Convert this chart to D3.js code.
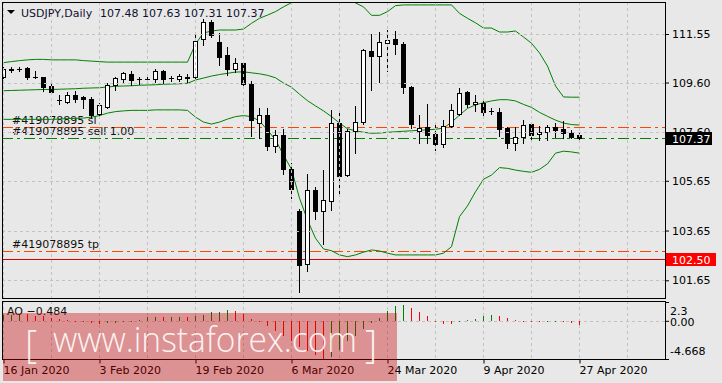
<!DOCTYPE html>
<html>
<head>
<meta charset="utf-8">
<script src="https://cdn.jsdelivr.net/npm/d3@7"></script>
<style>
    body { margin: 0; background: #e8e8e8; }
    svg { display: block; font-family: "DejaVu Sans", sans-serif; font-size: 11px; }
</style>
</head>
<body>
<div class="canvas"></div>
<script>
const symbolTitle = "USDJPY,Daily";

const dates = [
    "2020-01-16", "2020-01-17", "2020-01-20", "2020-01-21", "2020-01-22", "2020-01-23", "2020-01-24", "2020-01-27",
    "2020-01-28", "2020-01-29", "2020-01-30", "2020-01-31", "2020-02-03", "2020-02-04", "2020-02-05", "2020-02-06",
    "2020-02-07", "2020-02-10", "2020-02-11", "2020-02-12", "2020-02-13", "2020-02-14", "2020-02-17", "2020-02-18",
    "2020-02-19", "2020-02-20", "2020-02-21", "2020-02-24", "2020-02-25", "2020-02-26", "2020-02-27", "2020-02-28",
    "2020-03-02", "2020-03-03", "2020-03-04", "2020-03-05", "2020-03-06", "2020-03-09", "2020-03-10", "2020-03-11",
    "2020-03-12", "2020-03-13", "2020-03-16", "2020-03-17", "2020-03-18", "2020-03-19", "2020-03-20", "2020-03-23",
    "2020-03-24", "2020-03-25", "2020-03-26", "2020-03-27", "2020-03-30", "2020-03-31", "2020-04-01", "2020-04-02",
    "2020-04-03", "2020-04-06", "2020-04-07", "2020-04-08", "2020-04-09", "2020-04-10", "2020-04-13", "2020-04-14",
    "2020-04-15", "2020-04-16", "2020-04-17", "2020-04-20", "2020-04-21", "2020-04-22", "2020-04-23", "2020-04-24",
    "2020-04-27"
];

const openPrices = [
    109.83, 110.12, 110.15, 110.17, 109.84, 109.81, 109.46, 108.91, 108.83, 109.10,
    109.01, 108.94, 108.32, 108.63, 109.50, 109.74, 109.94, 109.74, 109.75, 109.73,
    110.06, 109.77, 109.75, 109.80, 109.81, 111.34, 112.04, 111.24, 110.71, 110.13,
    110.40, 109.54, 107.96, 108.29, 107.06, 107.49, 106.12, 104.45, 102.29, 105.28,
    104.45, 104.85, 107.96, 105.88, 107.65, 108.00, 110.88, 110.68, 111.20, 111.35,
    111.15, 109.43, 107.66, 107.80, 107.52, 107.13, 107.85, 108.32, 109.23, 108.72,
    108.76, 108.46, 108.40, 107.76, 107.16, 107.40, 107.92, 107.52, 107.60, 107.81,
    107.74, 107.58, 107.48
];
const highPrices = [
    110.22, 110.24, 110.22, 110.24, 110.07, 109.83, 109.66, 109.10, 109.23, 109.27,
    109.06, 109.01, 108.76, 109.57, 109.83, 110.03, 110.06, 109.83, 109.90, 110.14,
    110.10, 109.86, 109.94, 109.94, 111.60, 112.14, 112.11, 111.58, 111.02, 110.57,
    110.44, 109.66, 108.56, 108.56, 107.69, 107.73, 106.38, 104.50, 105.92, 105.41,
    106.08, 108.50, 108.36, 107.73, 108.66, 110.95, 111.54, 111.62, 111.71, 111.67,
    111.24, 109.47, 108.29, 108.74, 107.93, 108.09, 108.74, 109.37, 109.27, 109.10,
    108.97, 108.56, 108.56, 107.82, 107.80, 108.09, 108.02, 107.85, 107.89, 107.96,
    108.05, 107.69, 107.63
];
const lowPrices = [
    109.78, 110.03, 110.06, 109.73, 109.80, 109.27, 109.14, 108.74, 108.79, 108.83,
    108.56, 108.23, 108.25, 108.58, 109.30, 109.63, 109.50, 109.54, 109.57, 109.63,
    109.59, 109.67, 109.67, 109.62, 109.79, 111.11, 111.44, 110.30, 109.90, 110.03,
    109.50, 107.46, 107.36, 106.89, 106.82, 105.92, 104.95, 101.19, 102.04, 104.10,
    103.10, 104.48, 105.12, 105.84, 106.75, 107.95, 109.30, 109.63, 110.07, 110.73,
    109.19, 107.76, 107.16, 107.16, 106.89, 106.99, 107.81, 108.29, 108.63, 108.47,
    108.19, 108.32, 107.45, 106.96, 106.89, 107.16, 107.26, 107.29, 107.29, 107.42,
    107.36, 107.36, 107.31
];
const closePrices = [
    110.13, 110.14, 110.16, 109.81, 109.83, 109.43, 109.23, 108.90, 109.09, 108.95,
    108.95, 108.29, 108.70, 109.49, 109.77, 109.97, 109.70, 109.73, 109.76, 110.08,
    109.74, 109.77, 109.86, 109.81, 111.28, 112.03, 111.51, 110.64, 110.13, 110.40,
    109.54, 108.09, 108.29, 107.06, 107.49, 106.12, 105.32, 102.27, 105.28, 104.45,
    104.88, 107.96, 105.85, 107.65, 108.00, 110.91, 110.68, 111.22, 111.31, 111.14,
    109.43, 107.93, 107.78, 107.49, 107.12, 107.85, 108.50, 109.17, 108.72, 108.82,
    108.43, 108.45, 107.72, 107.18, 107.40, 107.88, 107.49, 107.60, 107.80, 107.69,
    107.56, 107.42, 107.37
];

// Bollinger bands
const bandUpper = [
    110.40, 110.44, 110.48, 110.51, 110.53, 110.53, 110.51, 110.51, 110.51, 110.51,
    110.48, 110.46, 110.44, 110.42, 110.42, 110.42, 110.42, 110.42, 110.42, 110.42,
    110.42, 110.42, 110.42, 110.42, 111.15, 111.59, 111.67, 111.71, 111.71, 111.71,
    111.75, 111.98, 112.18, 112.31, 112.45, 112.64, 112.81, 113.12, 113.32, 113.40,
    113.40, 113.32, 113.16, 112.96, 112.80, 112.64, 112.30, 112.30, 112.45, 112.69,
    112.72, 112.72, 112.72, 112.72, 112.72, 112.72, 112.72, 112.38, 112.18, 112.00,
    111.79, 111.79, 111.63, 111.63, 111.67, 111.43, 111.18, 110.79, 110.26, 109.46,
    109.02, 109.01, 109.01
];
const bandMiddle = [
    109.27, 109.28, 109.29, 109.30, 109.31, 109.32, 109.32, 109.33, 109.34, 109.35,
    109.37, 109.38, 109.39, 109.42, 109.45, 109.46, 109.47, 109.49, 109.50, 109.51,
    109.53, 109.54, 109.55, 109.57, 109.70, 109.78, 109.86, 109.92, 109.97, 110.02,
    110.03, 109.99, 109.95, 109.89, 109.79, 109.58, 109.41, 109.13, 108.87, 108.66,
    108.46, 108.23, 107.97, 107.74, 107.66, 107.60, 107.56, 107.57, 107.60, 107.62,
    107.64, 107.66, 107.68, 107.70, 107.72, 107.77, 108.00, 108.29, 108.56, 108.70,
    108.79, 108.86, 108.91, 108.91, 108.86, 108.72, 108.60, 108.40, 108.24, 108.09,
    107.97, 107.91, 107.89
];
const bandLower = [
    108.12, 108.12, 108.12, 108.12, 108.12, 108.12, 108.12, 108.13, 108.15, 108.16,
    108.17, 108.21, 108.27, 108.37, 108.43, 108.46, 108.48, 108.48, 108.48, 108.50,
    108.50, 108.50, 108.50, 108.48, 108.21, 108.01, 107.93, 108.01, 108.13, 108.23,
    108.27, 108.23, 108.05, 107.69, 107.29, 106.69, 106.11, 104.95, 104.07, 103.34,
    102.91, 102.84, 102.67, 102.60, 102.67, 102.78, 102.87, 102.83, 102.74, 102.67,
    102.67, 102.67, 102.67, 102.67, 102.67, 102.74, 103.00, 104.21, 104.64, 105.21,
    105.71, 105.88, 106.18, 106.15, 106.08, 106.03, 105.99, 106.11, 106.33, 106.76,
    106.84, 106.81, 106.76
];

const aoValues = [
    0.70, 0.74, 0.80, 0.78, 0.62, 0.53, 0.33, 0.20, 0.08, 0.02,
    -0.16, -0.24, -0.33, -0.28, -0.24, -0.16, -0.08, 0.16, 0.41, 0.49,
    0.41, 0.42, 0.43, 0.41, 0.61, 0.69, 1.02, 1.03, 1.31, 1.14,
    0.82, 0.20, -0.20, -0.61, -1.22, -1.84, -2.50, -3.20, -3.75, -4.20,
    -4.668, -4.45, -3.55, -2.47, -1.85, -1.00, -0.27, 0.29, 1.14, 1.76,
    1.92, 1.51, 1.02, 0.53, 0.02, -0.38, -0.45, -0.16, 0.06, 0.20,
    0.53, 0.69, 0.53, 0.29, 0.08, 0.01, -0.06, -0.16, -0.05, -0.02,
    -0.06, -0.24, -0.484
];

const priceTicks = [111.55, 109.60, 107.60, 105.65, 103.65, 101.65];
const aoTicks = [2.3, 0, -4.668];
const aoTickLabels = ["2.3", "0.00", "-4.668"];

const levelNames = ["#419078895 sl", "#419078895 sell 1.00", "#419078895 tp"];
const levelPrices = [107.80, 107.36, 102.81];
const alertPrice = 102.50;

const watermarkText = "www.instaforex.com";

class TerminalChart {
    constructor(svg) {
        this.svg = svg;
        this.plot = {left: 2, right: 665, top: 2, bottom: 298};
        this.sub = {top: 301, bottom: 359};
        this.parseDate = d3.timeParse("%Y-%m-%d");
        this.bars = dates.map((d, i) => ({
            i: i, date: this.parseDate(d),
            o: openPrices[i], h: highPrices[i], l: lowPrices[i], c: closePrices[i]
        }));
        this.x = d3.scaleLinear().domain([0, dates.length - 1]).range([3, 579]);
        this.y = d3.scaleLinear().domain([101.65, 111.55]).range([280.3, 34]);
        this.aoY = d3.scaleLinear().domain([-4.668, 2.3]).range([359, 302]);

        this.initialize();
    }

    initialize() {
        this.svg.append("clipPath").attr("id", "plotClip")
            .append("rect")
            .attr("x", this.plot.left).attr("y", this.plot.top)
            .attr("width", this.plot.right - this.plot.left)
            .attr("height", this.plot.bottom - this.plot.top);

        this.main = this.svg.append("g").attr("clip-path", "url(#plotClip)");
        this.addGrid();
        this.addLevels();
        this.addBands();
        this.addCandles();
        this.addOscillator();
        this.addFrames();
        this.addPriceAxis();
        this.addTimeAxis();
        this.addHeader();
        this.addWatermark();
    }

    addGrid() {
        const cols = d3.range(0, 79, 6);
        const grid = this.svg.append("g")
            .attr("stroke", "#c2c2c2")
            .attr("stroke-dasharray", "3,3")
            .attr("shape-rendering", "crispEdges");

        grid.selectAll("line.v")
            .data(cols)
            .join("line")
            .attr("x1", d => this.x(d) + 0.5).attr("x2", d => this.x(d) + 0.5)
            .attr("y1", this.plot.top).attr("y2", this.plot.bottom);

        grid.selectAll("line.sv")
            .data(cols)
            .join("line")
            .attr("x1", d => this.x(d) + 0.5).attr("x2", d => this.x(d) + 0.5)
            .attr("y1", this.sub.top).attr("y2", this.sub.bottom);

        grid.selectAll("line.h")
            .data(priceTicks)
            .join("line")
            .attr("x1", this.plot.left).attr("x2", this.plot.right)
            .attr("y1", d => Math.round(this.y(d)) + 0.5)
            .attr("y2", d => Math.round(this.y(d)) + 0.5);

        grid.append("line")
            .attr("x1", this.plot.left).attr("x2", this.plot.right)
            .attr("y1", Math.round(this.aoY(0)) + 0.5)
            .attr("y2", Math.round(this.aoY(0)) + 0.5);
    }

    addLevels() {
        const levels = levelNames.map((n, i) => ({name: n, price: levelPrices[i]}));
        const g = this.main.append("g");

        g.append("line")
            .attr("x1", this.plot.left).attr("x2", this.plot.right)
            .attr("y1", Math.round(this.y(alertPrice)) + 0.5)
            .attr("y2", Math.round(this.y(alertPrice)) + 0.5)
            .attr("stroke", "#dd0000")
            .attr("shape-rendering", "crispEdges");

        g.selectAll("line.level")
            .data(levels)
            .join("line")
            .attr("x1", this.plot.left).attr("x2", this.plot.right)
            .attr("y1", d => Math.round(this.y(d.price)) + 0.5)
            .attr("y2", d => Math.round(this.y(d.price)) + 0.5)
            .attr("stroke", d => d.name.includes("sell") ? "#008000" : "#ff4500")
            .attr("stroke-dasharray", "11,4,3,4")
            .attr("shape-rendering", "crispEdges");

        g.selectAll("text.level")
            .data(levels)
            .join("text")
            .attr("x", 12)
            .attr("y", d => this.y(d.price) - 3)
            .attr("fill", "#111")
            .text(d => d.name);
    }

    addBands() {
        const line = d3.line()
            .x((d, i) => this.x(i) + 0.5)
            .y(d => this.y(d));
        this.main.selectAll("path.band")
            .data([bandUpper, bandMiddle, bandLower])
            .join("path")
            .attr("d", d => line(d))
            .attr("fill", "none")
            .attr("stroke", "#008000")
            .attr("stroke-width", 1);
    }

    addCandles() {
        const g = this.main.append("g").attr("shape-rendering", "crispEdges");
        const py = v => Math.round(this.y(v));

        g.selectAll("rect.wick")
            .data(this.bars)
            .join("rect")
            .attr("x", d => this.x(d.i))
            .attr("width", 1)
            .attr("y", d => py(d.h))
            .attr("height", d => py(d.l) - py(d.h) + 1)
            .attr("fill", "#000");

        g.selectAll("rect.body")
            .data(this.bars)
            .join("rect")
            .attr("x", d => this.x(d.i) - 2)
            .attr("width", 5)
            .attr("y", d => py(Math.max(d.o, d.c)))
            .attr("height", d => Math.max(1, py(Math.min(d.o, d.c)) - py(Math.max(d.o, d.c)) + 1))
            .attr("fill", "#000");

        const bulls = this.bars.filter(d => d.c > d.o &&
            py(d.o) - py(d.c) + 1 > 2);
        g.selectAll("rect.hollow")
            .data(bulls)
            .join("rect")
            .attr("x", d => this.x(d.i) - 1)
            .attr("width", 3)
            .attr("y", d => py(d.c) + 1)
            .attr("height", d => py(d.o) - py(d.c) - 1)
            .attr("fill", "#fff");
    }

    addOscillator() {
        const zero = Math.round(this.aoY(0));
        const g = this.svg.append("g").attr("shape-rendering", "crispEdges");
        g.selectAll("rect.ao")
            .data(aoValues)
            .join("rect")
            .attr("x", (d, i) => this.x(i))
            .attr("width", 1)
            .attr("y", d => d >= 0 ? Math.round(this.aoY(d)) : zero)
            .attr("height", d => Math.max(1, Math.abs(Math.round(this.aoY(d)) - zero)))
            .attr("fill", (d, i) => (i === 0 || d > aoValues[i - 1]) ? "#008000" : "#ff0000");

        this.svg.append("text")
            .attr("x", 7).attr("y", 315)
            .attr("fill", "#111")
            .text(`AO ${d3.format(".3f")(aoValues[aoValues.length - 1])}`);
    }

    addFrames() {
        const g = this.svg.append("g")
            .attr("fill", "none").attr("stroke", "#000")
            .attr("shape-rendering", "crispEdges");
        g.append("rect")
            .attr("x", this.plot.left + 0.5).attr("y", this.plot.top + 0.5)
            .attr("width", this.plot.right - this.plot.left)
            .attr("height", this.plot.bottom - this.plot.top);
        g.append("rect")
            .attr("x", this.plot.left + 0.5).attr("y", this.sub.top + 0.5)
            .attr("width", this.plot.right - this.plot.left)
            .attr("height", this.sub.bottom - this.sub.top);
    }

    addPriceAxis() {
        const axisGroup = this.svg.append("g")
            .attr("transform", `translate(${this.plot.right}, 0)`)
            .call(d3.axisRight(this.y).tickValues(priceTicks).tickSize(4).tickFormat(d3.format(".2f")));
        axisGroup.select(".domain").remove();
        axisGroup.selectAll("text")
            .attr("x", 7)
            .style("font-family", "DejaVu Sans")
            .style("font-size", "11px")
            .attr("fill", "#000");

        // current bid and alert price boxes
        const last = this.bars[this.bars.length - 1];
        const tags = [
            {price: last.c, bg: "#000", width: 46},
            {price: alertPrice, bg: "#ff0000", width: 50}
        ];
        const tagGroup = this.svg.append("g");
        tagGroup.selectAll("rect")
            .data(tags)
            .join("rect")
            .attr("x", this.plot.right + 1)
            .attr("y", d => Math.round(this.y(d.price)) - 6)
            .attr("width", d => d.width)
            .attr("height", 13)
            .attr("fill", d => d.bg);
        tagGroup.selectAll("text")
            .data(tags)
            .join("text")
            .attr("x", this.plot.right + 7)
            .attr("y", d => Math.round(this.y(d.price)) + 4.5)
            .attr("fill", "#fff")
            .text(d => d3.format(".2f")(d.price));

        const aoAxis = this.svg.append("g")
            .attr("transform", `translate(${this.plot.right}, 0)`)
            .call(d3.axisRight(this.aoY).tickValues(aoTicks).tickSize(4)
                .tickFormat((d, i) => aoTickLabels[i]));
        aoAxis.select(".domain").remove();
        aoAxis.selectAll("text")
            .attr("x", 5)
            .attr("dy", (d, i) => ["1.1em", "0.38em", "-0.45em"][i])
            .style("font-family", "DejaVu Sans")
            .style("font-size", "11px")
            .attr("fill", "#000");
    }

    addTimeAxis() {
        const fmt = d3.timeFormat("%-d %b %Y");
        const axisGroup = this.svg.append("g")
            .attr("transform", `translate(0.5, ${this.sub.bottom + 0.5})`)
            .call(d3.axisBottom(this.x).tickValues(d3.range(0, dates.length, 12)).tickSize(4)
                .tickFormat(i => fmt(this.bars[i].date)));
        axisGroup.select(".domain").remove();
        axisGroup.selectAll("text")
            .attr("text-anchor", "start")
            .attr("x", -0.5)
            .style("font-family", "DejaVu Sans")
            .style("font-size", "11px")
            .attr("fill", "#000");
    }

    addHeader() {
        const last = this.bars[this.bars.length - 1];
        this.svg.append("path")
            .attr("d", "M7,10 L15,10 L11,14 Z")
            .attr("fill", "#000");
        const f = d3.format(".2f");
        this.svg.append("text")
            .attr("x", 21).attr("y", 17)
            .attr("fill", "#101030")
            .text(symbolTitle);
        this.svg.append("text")
            .attr("x", 100).attr("y", 17)
            .attr("fill", "#101030")
            .text([last.o, last.h, last.l, last.c].map(f).join(" "));
    }

    addWatermark() {
        const g = this.svg.append("g");
        g.append("rect")
            .attr("x", 3).attr("y", 313)
            .attr("width", 394).attr("height", 68)
            .attr("fill", "rgba(200,0,0,0.37)");
        const text = g.append("g")
            .attr("fill", "#fff")
            .attr("fill-opacity", 0.9)
            .style("font-family", "'Open Sans', sans-serif")
            .style("font-weight", 300);
        text.append("text")
            .attr("x", 25).attr("y", 358)
            .style("font-size", "38px")
            .text("[");
        text.append("text")
            .attr("x", 53).attr("y", 352)
            .attr("textLength", 304)
            .attr("lengthAdjust", "spacingAndGlyphs")
            .style("font-size", "35px")
            .text(watermarkText);
        text.append("text")
            .attr("x", 365).attr("y", 358)
            .style("font-size", "38px")
            .text("]");
    }
}

const svg = d3.select(".canvas")
    .append("svg")
    .attr("width", 722)
    .attr("height", 383);

svg.append("rect").attr("width", 722).attr("height", 383).attr("fill", "#e8e8e8");

new TerminalChart(svg);
</script>
</body>
</html>
